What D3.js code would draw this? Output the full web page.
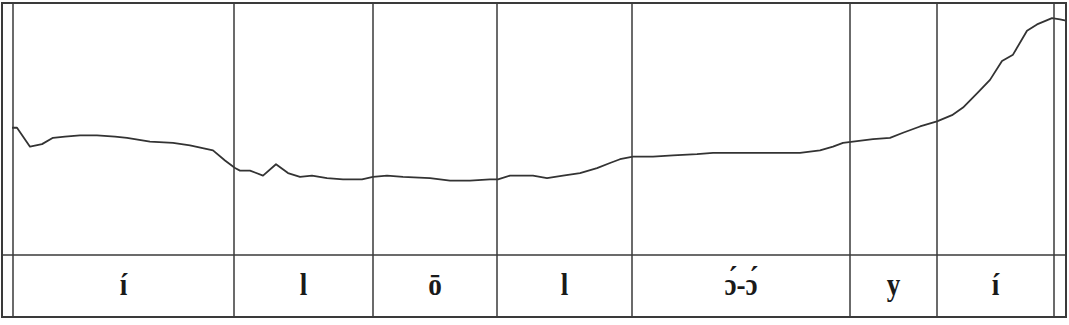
<!DOCTYPE html>
<meta charset="utf-8">
<style>
body { margin: 0; background: #fff; }
</style>
<body>
<svg id="pitch" width="1069" height="325"></svg>
</body>
<script src="https://d3js.org/d3.v7.min.js"></script>
<script>

// time in ms, f0 in Hz
var times = [10, 15, 28, 40, 51, 63, 78, 95, 113, 125, 148, 171, 188, 211, 223, 233, 238, 248, 261, 274,
  286, 298, 310, 325, 341, 360, 371, 385, 401, 428, 448, 468, 488, 496, 508, 521, 531, 545, 561, 578,
  595, 608, 618, 631, 651, 671, 695, 711, 735, 758, 778, 798, 818, 831, 841, 851, 871, 888, 901, 918,
  935, 950, 961, 976, 988, 1000, 1011, 1025, 1035, 1050, 1058, 1064];
var f0 = [201, 201, 186, 188, 193, 194, 195, 195, 194, 193, 190, 189, 187, 183, 175, 169, 167, 167, 163, 172,
  165, 162, 163, 161, 160, 160, 162, 163, 162, 161, 159, 159, 160, 160, 163, 163, 163, 161, 163, 165,
  169, 173, 176, 178, 178, 179, 180, 181, 181, 181, 181, 181, 183, 186, 189, 190, 192, 193, 197, 202,
  206, 211, 217, 229, 239, 254, 259, 278, 283, 288, 287, 286];

// segment boundaries (ms) and labels
var bounds = [11, 232, 371, 495, 630, 848, 935, 1052];
var labels = ["í", "l", "ō", "l", "ɔ́-ɔ́", "y", "í"];

var svg = d3.select("#pitch"),
    boxLeft = 2, boxRight = 1066, boxTop = 3, tierTop = 255, boxBottom = 317;

var x = d3.scaleLinear().domain([0, 1064]).range([boxLeft, boxRight]);
var y = d3.scaleLinear().domain([100, 300]).range([tierTop, boxTop]);

var stroke = "#3a3a3a";

// pitch curve
var line = d3.line()
    .x(function(d, i) { return x(times[i]); })
    .y(function(d) { return y(d); });

svg.append("path")
    .datum(f0)
    .attr("d", line)
    .attr("fill", "none")
    .attr("stroke", "#333")
    .attr("stroke-width", 1.8)
    .attr("stroke-linejoin", "round");

// boundaries
svg.selectAll(".bound")
  .data(bounds)
  .enter().append("line")
    .attr("class", "bound")
    .attr("x1", function(d) { return x(d); })
    .attr("x2", function(d) { return x(d); })
    .attr("y1", boxTop)
    .attr("y2", boxBottom)
    .attr("stroke", stroke)
    .attr("stroke-width", 1.5);

// tier separator
svg.append("line")
    .attr("x1", boxLeft).attr("x2", boxRight)
    .attr("y1", tierTop).attr("y2", tierTop)
    .attr("stroke", stroke)
    .attr("stroke-width", 1.6);

// outer box
svg.append("rect")
    .attr("x", boxLeft).attr("y", boxTop)
    .attr("width", boxRight - boxLeft).attr("height", boxBottom - boxTop)
    .attr("fill", "none")
    .attr("stroke", stroke)
    .attr("stroke-width", 2);

// labels
svg.selectAll(".lab")
  .data(labels)
  .enter().append("text")
    .attr("class", "lab")
    .attr("transform", function(d, i) {
      var cx = (x(bounds[i]) + x(bounds[i + 1])) / 2;
      return "translate(" + cx + ",295) scale(0.85,1)";
    })
    .attr("text-anchor", "middle")
    .style("font-family", "'Liberation Serif', 'DejaVu Serif', serif")
    .style("font-size", "32px")
    .style("font-weight", "bold")
    .attr("fill", "#1a1a1a")
    .text(function(d) { return d; });

</script>
